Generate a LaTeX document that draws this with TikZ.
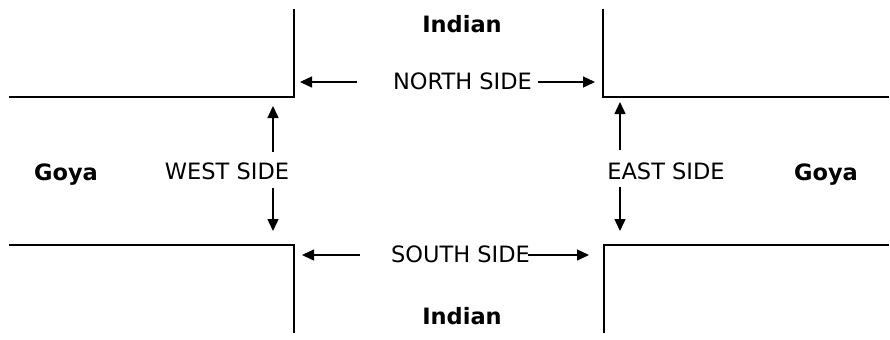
\documentclass[tikz,border=0pt]{standalone}
\usepackage{fontspec}
\setmainfont{DejaVu Sans}
\usetikzlibrary{arrows.meta}
\begin{document}
\begin{tikzpicture}[x=1bp,y=-1bp,
  road/.style={line width=2.8bp},
  pointer/.style={line width=1.4bp,-{Triangle[length=12bp,width=11bp]}},
  label/.style={inner sep=0pt,anchor=base,font=\fontsize{22.5bp}{26bp}\selectfont},
  street/.style={label,font=\fontsize{22.5bp}{26bp}\selectfont\bfseries}]
\useasboundingbox (0,0) rectangle (890,339);

% kerb lines of the four corners
\draw[road] (9,97) -- (294,97) -- (294,9);
\draw[road] (603,9) -- (603,97) -- (889,97);
\draw[road] (9,245) -- (294,245) -- (294,333);
\draw[road] (889,245) -- (604,245) -- (604,333);

% street names
\node[street] (indianN) at (462,32) {Indian};
\node[street] (indianS) at (462,324) {Indian};
\node[street] (goyaW) at (66,180) {Goya};
\node[street] (goyaE) at (826,180) {Goya};

% side labels
\node[label] (north) at (462.5,89) {NORTH SIDE};
\node[label] (south) at (460.5,262) {SOUTH SIDE};
\node[label] (west) at (227,179.5) {WEST SIDE};
\node[label] (east) at (666,179.5) {EAST SIDE};

% arrow ends
\coordinate (nlA) at (357,82);  \coordinate (nlB) at (300,82);
\coordinate (nrA) at (538,82);  \coordinate (nrB) at (595,82);
\coordinate (slA) at (360,255); \coordinate (slB) at (302,255);
\coordinate (srA) at (528,255); \coordinate (srB) at (589,255);
\coordinate (wuA) at (273,152); \coordinate (wuB) at (273,106);
\coordinate (wdA) at (273,188); \coordinate (wdB) at (273,231);
\coordinate (euA) at (620,150); \coordinate (euB) at (620,102);
\coordinate (edA) at (620,187); \coordinate (edB) at (620,231);

\draw[pointer] (nlA) -- (nlB);
\draw[pointer] (nrA) -- (nrB);
\draw[pointer] (slA) -- (slB);
\draw[pointer] (srA) -- (srB);
\draw[pointer] (wuA) -- (wuB);
\draw[pointer] (wdA) -- (wdB);
\draw[pointer] (euA) -- (euB);
\draw[pointer] (edA) -- (edB);
\end{tikzpicture}
\end{document}
